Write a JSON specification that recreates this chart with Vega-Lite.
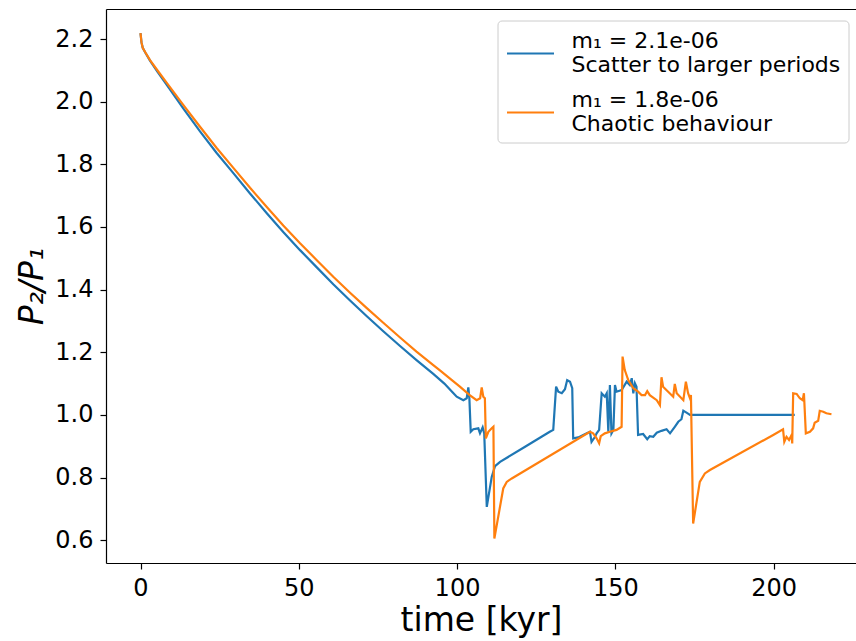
{
  "$schema": "https://vega.github.io/schema/vega-lite/v6.json",
  "width": 750,
  "height": 554,
  "autosize": {"type": "none"},
  "padding": {"left": 106, "top": 9, "right": 0, "bottom": 78},
  "background": "white",
  "config": {
    "view": {"stroke": null},
    "font": "DejaVu Sans",
    "style": {"guide-label": {"lineHeight": 24}},
    "axis": {
      "labelFont": "DejaVu Sans", "labelFontSize": 24, "labelColor": "#000",
      "tickColor": "#000", "domainColor": "#000", "tickSize": 6, "tickWidth": 1.2,
      "domainWidth": 1.2, "grid": false, "labelPadding": 7,
      "titleFont": "DejaVu Sans", "titleFontSize": 33, "titleFontWeight": "normal", "titleColor": "#000"
    },
    "legend": {
      "orient": "none", "legendX": 391.5, "legendY": 11.5,
      "symbolType": "stroke", "symbolSize": 2209, "symbolStrokeWidth": 2.2,
      "labelFont": "DejaVu Sans", "labelFontSize": 22, "labelColor": "#000",
      "labelBaseline": "line-bottom",
      "labelOffset": 16, "labelLimit": 500, "rowPadding": 12, "padding": 8,
      "strokeColor": "#cccccc", "fillColor": "rgba(255,255,255,0.8)", "cornerRadius": 4
    }
  },
  "data": {"values": [
    {"s":"A","t":0,"v":2.219},{"s":"A","t":0.3,"v":2.19},{"s":"A","t":0.7,"v":2.172},{"s":"A","t":1.5,"v":2.157},
    {"s":"A","t":3.0,"v":2.131},{"s":"A","t":5.5,"v":2.094},{"s":"A","t":8.3,"v":2.054},{"s":"A","t":13.5,"v":1.979},
    {"s":"A","t":18.8,"v":1.905},{"s":"A","t":24.0,"v":1.837},{"s":"A","t":29.4,"v":1.771},{"s":"A","t":34.6,"v":1.707},
    {"s":"A","t":39.9,"v":1.644},{"s":"A","t":45.1,"v":1.584},{"s":"A","t":50.4,"v":1.526},{"s":"A","t":55.7,"v":1.471},
    {"s":"A","t":60.9,"v":1.417},{"s":"A","t":66.2,"v":1.365},{"s":"A","t":71.5,"v":1.315},{"s":"A","t":76.7,"v":1.267},
    {"s":"A","t":82.0,"v":1.22},{"s":"A","t":87.2,"v":1.175},{"s":"A","t":92.5,"v":1.131},{"s":"A","t":96.0,"v":1.1},
    {"s":"A","t":98.5,"v":1.073},{"s":"A","t":99.9,"v":1.058},{"s":"A","t":102.0,"v":1.047},
    {"s":"A","t":103.06,"v":1.053},{"s":"A","t":103.57,"v":1.088},{"s":"A","t":103.9,"v":1.053},{"s":"A","t":104.33,"v":0.946},
    {"s":"A","t":105.15,"v":0.954},{"s":"A","t":106.73,"v":0.957},{"s":"A","t":107.26,"v":0.941},{"s":"A","t":108.1,"v":0.96},
    {"s":"A","t":108.6,"v":0.941},{"s":"A","t":109.4,"v":0.706},{"s":"A","t":110.96,"v":0.802},{"s":"A","t":112.0,"v":0.836},
    {"s":"A","t":113.6,"v":0.85},{"s":"A","t":121.5,"v":0.898},{"s":"A","t":129.3,"v":0.946},{"s":"A","t":130.4,"v":0.952},
    {"s":"A","t":131.3,"v":1.09},{"s":"A","t":132.0,"v":1.074},{"s":"A","t":133.1,"v":1.069},{"s":"A","t":134.1,"v":1.082},
    {"s":"A","t":134.8,"v":1.111},{"s":"A","t":135.7,"v":1.106},{"s":"A","t":136.4,"v":1.085},{"s":"A","t":136.7,"v":0.925},
    {"s":"A","t":138.3,"v":0.928},{"s":"A","t":141.0,"v":0.941},{"s":"A","t":142.0,"v":0.946},{"s":"A","t":142.5,"v":0.914},
    {"s":"A","t":143.6,"v":0.93},{"s":"A","t":144.1,"v":0.941},{"s":"A","t":144.9,"v":0.952},{"s":"A","t":145.7,"v":1.069},
    {"s":"A","t":146.7,"v":1.058},{"s":"A","t":147.3,"v":1.069},{"s":"A","t":147.8,"v":0.946},{"s":"A","t":148.3,"v":1.095},
    {"s":"A","t":148.8,"v":0.941},{"s":"A","t":149.4,"v":0.952},{"s":"A","t":149.9,"v":1.095},{"s":"A","t":150.4,"v":1.074},
    {"s":"A","t":152.0,"v":1.079},{"s":"A","t":153.6,"v":1.106},{"s":"A","t":154.6,"v":1.095},{"s":"A","t":155.2,"v":1.117},
    {"s":"A","t":155.7,"v":1.069},{"s":"A","t":156.2,"v":1.101},{"s":"A","t":156.7,"v":1.09},{"s":"A","t":157.2,"v":0.936},
    {"s":"A","t":158.8,"v":0.939},{"s":"A","t":160.1,"v":0.922},{"s":"A","t":160.9,"v":0.932},{"s":"A","t":162.0,"v":0.93},
    {"s":"A","t":163.1,"v":0.943},{"s":"A","t":164.6,"v":0.949},{"s":"A","t":166.2,"v":0.954},{"s":"A","t":167.3,"v":0.941},
    {"s":"A","t":168.8,"v":0.962},{"s":"A","t":169.9,"v":0.978},{"s":"A","t":170.9,"v":0.986},{"s":"A","t":171.5,"v":1.013},
    {"s":"A","t":172.5,"v":1.007},{"s":"A","t":173.6,"v":1.0},{"s":"A","t":206.7,"v":1.0},
    {"s":"B","t":0,"v":2.219},{"s":"B","t":0.3,"v":2.19},{"s":"B","t":0.7,"v":2.172},{"s":"B","t":1.5,"v":2.158},
    {"s":"B","t":3.0,"v":2.133},{"s":"B","t":5.5,"v":2.098},{"s":"B","t":8.3,"v":2.06},{"s":"B","t":13.5,"v":1.99},
    {"s":"B","t":18.8,"v":1.92},{"s":"B","t":24.0,"v":1.853},{"s":"B","t":29.4,"v":1.788},{"s":"B","t":34.6,"v":1.725},
    {"s":"B","t":39.9,"v":1.664},{"s":"B","t":45.1,"v":1.605},{"s":"B","t":50.4,"v":1.548},{"s":"B","t":55.7,"v":1.494},
    {"s":"B","t":60.9,"v":1.441},{"s":"B","t":66.2,"v":1.39},{"s":"B","t":71.5,"v":1.341},{"s":"B","t":76.7,"v":1.294},
    {"s":"B","t":82.0,"v":1.247},{"s":"B","t":87.2,"v":1.202},{"s":"B","t":92.5,"v":1.159},{"s":"B","t":94.6,"v":1.142},
    {"s":"B","t":97.5,"v":1.118},{"s":"B","t":100.9,"v":1.09},{"s":"B","t":104.0,"v":1.063},
    {"s":"B","t":106.2,"v":1.047},{"s":"B","t":107.3,"v":1.053},{"s":"B","t":107.8,"v":1.088},{"s":"B","t":108.3,"v":1.058},
    {"s":"B","t":108.8,"v":1.053},{"s":"B","t":109.1,"v":0.925},{"s":"B","t":109.9,"v":0.946},{"s":"B","t":110.96,"v":0.957},
    {"s":"B","t":111.5,"v":0.962},{"s":"B","t":111.8,"v":0.605},{"s":"B","t":114.6,"v":0.765},{"s":"B","t":115.7,"v":0.786},
    {"s":"B","t":117.3,"v":0.797},{"s":"B","t":142.0,"v":0.946},{"s":"B","t":143.0,"v":0.941},{"s":"B","t":144.1,"v":0.925},
    {"s":"B","t":144.9,"v":0.909},{"s":"B","t":145.4,"v":0.932},{"s":"B","t":146.7,"v":0.941},{"s":"B","t":148.3,"v":0.946},
    {"s":"B","t":150.4,"v":0.952},{"s":"B","t":152.0,"v":0.962},{"s":"B","t":152.3,"v":1.186},{"s":"B","t":153.0,"v":1.143},
    {"s":"B","t":154.1,"v":1.111},{"s":"B","t":155.7,"v":1.085},{"s":"B","t":157.2,"v":1.074},{"s":"B","t":158.3,"v":1.063},
    {"s":"B","t":159.4,"v":1.063},{"s":"B","t":160.1,"v":1.076},{"s":"B","t":160.9,"v":1.063},{"s":"B","t":163.1,"v":1.047},
    {"s":"B","t":164.1,"v":1.031},{"s":"B","t":164.6,"v":1.12},{"s":"B","t":165.1,"v":1.09},{"s":"B","t":166.7,"v":1.074},
    {"s":"B","t":168.3,"v":1.058},{"s":"B","t":168.8,"v":1.099},{"s":"B","t":169.4,"v":1.069},{"s":"B","t":171.5,"v":1.047},
    {"s":"B","t":172.3,"v":1.106},{"s":"B","t":173.0,"v":1.069},{"s":"B","t":173.6,"v":1.053},{"s":"B","t":173.9,"v":1.063},
    {"s":"B","t":174.6,"v":0.653},{"s":"B","t":176.7,"v":0.786},{"s":"B","t":178.3,"v":0.813},{"s":"B","t":179.9,"v":0.824},
    {"s":"B","t":199.9,"v":0.936},{"s":"B","t":203.0,"v":0.954},{"s":"B","t":203.4,"v":0.914},{"s":"B","t":204.1,"v":0.93},
    {"s":"B","t":204.9,"v":0.92},{"s":"B","t":205.7,"v":0.936},{"s":"B","t":205.9,"v":0.909},{"s":"B","t":206.2,"v":1.069},
    {"s":"B","t":207.3,"v":1.067},{"s":"B","t":208.3,"v":1.053},{"s":"B","t":209.2,"v":1.047},{"s":"B","t":209.6,"v":1.069},
    {"s":"B","t":210.2,"v":0.941},{"s":"B","t":211.5,"v":0.946},{"s":"B","t":212.5,"v":0.957},{"s":"B","t":213.0,"v":0.975},
    {"s":"B","t":214.1,"v":0.981},{"s":"B","t":214.6,"v":1.013},{"s":"B","t":215.7,"v":1.01},{"s":"B","t":216.7,"v":1.005},
    {"s":"B","t":218.3,"v":1.002}
  ]},
  "layer": [
    {
      "mark": {"type": "line", "strokeWidth": 2.2, "clip": true},
      "encoding": {
        "x": {"field": "t", "type": "quantitative",
              "scale": {"domain": [-10.9, 226.05], "nice": false, "zero": false},
              "axis": {"values": [0, 50, 100, 150, 200], "title": "time [kyr]", "titlePadding": 4}},
        "y": {"field": "v", "type": "quantitative",
              "scale": {"domain": [0.527, 2.296], "nice": false, "zero": false},
              "axis": {"values": [0.6, 0.8, 1.0, 1.2, 1.4, 1.6, 1.8, 2.0, 2.2], "format": ".1f",
                       "title": "P₂/P₁", "titleFontStyle": "italic", "titlePadding": 5}},
        "color": {"field": "s", "type": "nominal",
                  "scale": {"domain": ["A", "B"], "range": ["#1f77b4", "#ff7f0e"]},
                  "legend": {"title": null,
                             "labelExpr": "datum.label == 'A' ? ['m₁ = 2.1e-06', '\u2004Scatter to larger periods'] : ['m₁ = 1.8e-06', '\u2004Chaotic behaviour']"}}
      }
    },
    {
      "mark": {"type": "line", "opacity": 0},
      "encoding": {
        "x": {"field": "t", "type": "quantitative",
              "scale": {"domain": [-10.9, 226.05], "nice": false, "zero": false},
              "axis": {"orient": "top", "labels": false, "ticks": false, "title": null, "domain": true}},
        "y": {"field": "v", "type": "quantitative", "axis": null},
        "detail": {"field": "s"}
      }
    }
  ],
  "resolve": {"axis": {"x": "independent", "y": "independent"}}
}
